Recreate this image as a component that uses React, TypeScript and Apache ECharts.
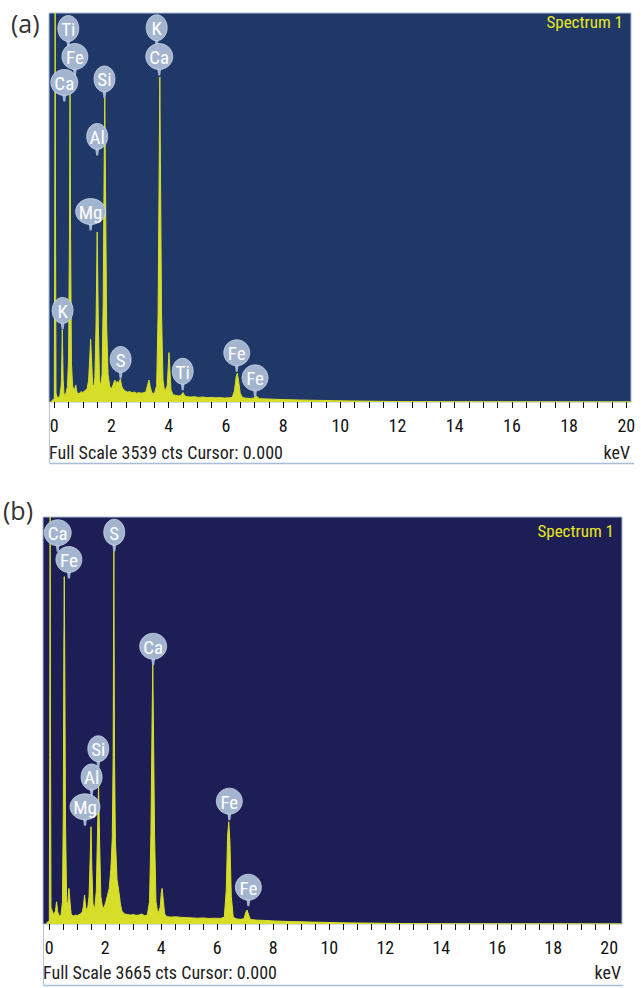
import React, { useEffect, useRef } from "react";
import * as echarts from "echarts";

// ---------- Data: panel (a) ----------
const energyA = [
  -0.1, 0.0, 0.015, 0.03, 0.045, 0.06, 0.1, 0.15, 0.2, 0.24, 0.25, 0.28, 0.31, 0.34, 0.38, 0.42, 0.46,
  0.5, 0.53, 0.55, 0.57, 0.6, 0.64, 0.68, 0.72, 0.75, 0.78, 0.82, 0.88, 0.94, 1.0, 1.05, 1.1, 1.15,
  1.2, 1.24, 1.27, 1.3, 1.34, 1.38, 1.42, 1.46, 1.5, 1.54, 1.58, 1.62, 1.67,
  1.71, 1.74, 1.765, 1.79, 1.83, 1.88, 1.94, 2.0, 2.06, 2.12, 2.16, 2.2, 2.24,
  2.28, 2.31, 2.35, 2.4, 2.48, 2.56, 2.64, 2.72, 2.8, 2.88, 2.96, 3.04, 3.12, 3.2,
  3.26, 3.31, 3.36, 3.42, 3.5, 3.58, 3.63, 3.67, 3.69, 3.71, 3.75, 3.8, 3.86,
  3.95, 3.99, 4.01, 4.04, 4.08, 4.15, 4.25, 4.35, 4.44, 4.48, 4.51, 4.55, 4.62, 4.75, 4.9, 5.05, 5.2,
  5.35, 5.5, 5.65, 5.8, 5.95, 6.1, 6.22, 6.3, 6.36, 6.4, 6.44, 6.5, 6.58, 6.7, 6.85, 6.96,
  7.02, 7.06, 7.1, 7.18, 7.4, 7.7, 8.0, 8.3, 8.6, 9.0, 9.4, 9.8, 10.3, 10.8, 11.4, 12.0, 13.0, 14.0,
  16.0, 18.0, 20.2,
];
const countsA = [
  10, 30, 1500, 3539, 1500, 80, 45, 40, 60, 150, 200, 655, 200, 70, 60, 90, 140,
  400, 1500, 2800, 1500, 350, 150, 110, 120, 155, 100, 75, 80, 95, 85, 100, 110, 120,
  200, 400, 573, 400, 160, 140, 220, 700, 1547, 700, 200, 140, 250,
  900, 2000, 2766, 2000, 700, 250, 140, 120, 160, 200, 150, 190, 170,
  190, 210, 150, 120, 100, 90, 95, 85, 90, 80, 85, 80, 85, 90,
  150, 200, 130, 80, 75, 150, 800, 2200, 2957, 2200, 800, 200, 90,
  150, 350, 449, 300, 110, 65, 60, 55, 60, 80, 85, 60, 50, 45, 48, 42, 45,
  40, 42, 38, 40, 36, 38, 40, 100, 230, 261, 200, 80, 40, 35, 32, 35,
  50, 55, 45, 30, 28, 25, 22, 20, 18, 16, 14, 12, 10, 8, 6, 4, 3, 2,
  2, 1, 1,
];
const labelNamesA = ["Ti", "Fe", "Ca", "Si", "Al", "Mg", "K", "S", "K", "Ca", "Ti", "Fe", "Fe"];
const labelKeVA = [0.49, 0.72, 0.35, 1.755, 1.5, 1.27, 0.29, 2.32, 3.58, 3.67, 4.49, 6.38, 7.02];
const labelTipA = [3225, 2970, 2734, 2766, 2243, 1560, 660, 214, 3232, 2970, 107, 275, 47];
const fullScaleA = 3539;

// ---------- Data: panel (b) ----------
const energyB = [
  -0.1, 0.0, 0.015, 0.03, 0.045, 0.06, 0.1, 0.16, 0.22, 0.26, 0.3, 0.36, 0.42, 0.47,
  0.5, 0.52, 0.535, 0.55, 0.58, 0.62, 0.66, 0.7, 0.74, 0.78, 0.85, 0.92, 1.0, 1.06, 1.12, 1.18,
  1.22, 1.26, 1.3, 1.36, 1.42, 1.46, 1.49, 1.52, 1.56, 1.62, 1.68, 1.72, 1.76, 1.8, 1.84, 1.9,
  1.96, 2.02, 2.08, 2.14, 2.2, 2.25, 2.28, 2.305, 2.33, 2.36, 2.42, 2.48, 2.54, 2.6,
  2.7, 2.8, 2.9, 3.0, 3.1, 3.2, 3.3, 3.4, 3.5, 3.58, 3.63, 3.67, 3.695, 3.72, 3.76, 3.81, 3.88,
  3.96, 4.0, 4.03, 4.07, 4.12, 4.2, 4.35, 4.5, 4.7, 4.9, 5.1, 5.3, 5.5, 5.7, 5.9, 6.1, 6.25,
  6.32, 6.37, 6.41, 6.45, 6.5, 6.57, 6.7, 6.85, 6.96, 7.01, 7.06, 7.11, 7.18,
  7.4, 7.7, 8.0, 8.3, 8.6, 9.0, 9.4, 9.8, 10.3, 10.8, 11.4, 12.0, 13.0, 14.0, 16.0, 18.0, 20.4,
];
const countsB = [
  10, 30, 1500, 3665, 1500, 150, 120, 80, 120, 200, 110, 70, 80, 200,
  1000, 2500, 3128, 2500, 900, 200, 180, 321, 200, 90, 70, 80, 75, 85, 90, 110,
  160, 261, 150, 120, 250, 600, 876, 500, 180, 130, 300, 800, 1252, 700, 250, 150,
  150, 200, 260, 320, 500, 780, 1500, 3368, 1500, 760, 400, 300, 180, 110,
  90, 85, 80, 85, 78, 80, 90, 75, 80, 200, 820, 1800, 2332, 1800, 800, 200, 90,
  150, 280, 321, 220, 90, 65, 62, 65, 60, 58, 55, 52, 55, 50, 52, 50, 60,
  300, 800, 921, 750, 250, 60, 45, 42, 50, 100, 126, 90, 40,
  35, 32, 28, 25, 22, 20, 17, 15, 12, 10, 8, 6, 4, 3, 2, 2, 1,
];
const labelNamesB = ["Ca", "Fe", "S", "Ca", "Si", "Al", "Mg", "Fe", "Fe"];
const labelKeVB = [0.3, 0.7, 2.32, 3.71, 1.75, 1.51, 1.275, 6.43, 7.11];
const labelTipB = [3352, 3111, 3357, 2330, 1407, 1153, 884, 935, 160];
const fullScaleB = 3665;

// ---------- Axis ticks ----------
const minorTicks = [
  0, 0.5, 1, 1.5, 2, 2.5, 3, 3.5, 4, 4.5, 5, 5.5, 6, 6.5, 7, 7.5, 8, 8.5, 9, 9.5, 10,
  10.5, 11, 11.5, 12, 12.5, 13, 13.5, 14, 14.5, 15, 15.5, 16, 16.5, 17, 17.5, 18, 18.5, 19, 19.5, 20,
];
const tickLabels = [0, 2, 4, 6, 8, 10, 12, 14, 16, 18, 20];

const NARROW =
  "'Liberation Sans Narrow','Arial Narrow','Roboto Condensed','DejaVu Sans Condensed','Liberation Sans',sans-serif";
const SPEC = "#d6de2a";
const BUBBLE = "#a3b4cf";
const rxByName: Record<string, number> = { Mg: 15, Ca: 13.5, Fe: 13 };

function labelSeries(names: string[], kev: number[], tips: number[], idx: number) {
  return {
    type: "custom",
    xAxisIndex: idx,
    yAxisIndex: idx,
    z: 5,
    clip: false,
    data: kev.map((k, i) => [k, tips[i]]),
    encode: { x: 0, y: 1 },
    renderItem: (params: any, api: any) => {
      const p = api.coord([api.value(0), api.value(1)]);
      const name = names[params.dataIndex];
      const rx = rxByName[name] ?? 10.5;
      const ry = 13;
      const cy = p[1] - 6 - ry;
      return {
        type: "group",
        children: [
          {
            type: "polygon",
            shape: {
              points: [
                [p[0] - 2.2, cy + ry - 3],
                [p[0] + 2.2, cy + ry - 3],
                [p[0] + 1, p[1]],
                [p[0] - 1, p[1]],
              ],
            },
            style: { fill: BUBBLE },
          },
          {
            type: "ellipse",
            shape: { cx: p[0], cy, rx, ry },
            style: { fill: BUBBLE, stroke: "rgba(215,225,240,0.7)", lineWidth: 1 },
          },
          {
            type: "text",
            x: p[0],
            y: cy + 1,
            style: {
              text: name,
              fill: "#ffffff",
              fontSize: 19,
              fontFamily: NARROW,
              align: "center",
              verticalAlign: "middle",
            },
          },
        ],
      };
    },
  };
}

function xAxisCfg(idx: number, min: number, max: number) {
  return {
    type: "value",
    gridIndex: idx,
    min,
    max,
    axisLine: { show: false },
    splitLine: { show: false },
    axisTick: {
      show: true,
      customValues: minorTicks,
      length: 6,
      lineStyle: { color: "#111", width: 1 },
    },
    axisLabel: {
      customValues: tickLabels,
      fontSize: 18,
      color: "#111",
      margin: 14,
      fontFamily: NARROW,
    },
  };
}

export default function App() {
  const ref = useRef<HTMLDivElement>(null);
  useEffect(() => {
    if (!ref.current) return;
    const chart = echarts.init(ref.current, null, { renderer: "svg" });
    const option: any = {
      animation: false,
      backgroundColor: "#ffffff",
      grid: [
        {
          left: 49,
          top: 13,
          width: 582,
          height: 389,
          show: true,
          backgroundColor: "#1f3868",
          borderColor: "#a9bbd5",
          borderWidth: 1,
        },
        {
          left: 43,
          top: 517,
          width: 579,
          height: 407,
          show: true,
          backgroundColor: "#1d1e55",
          borderColor: "#a9bbd5",
          borderWidth: 1,
        },
      ],
      xAxis: [xAxisCfg(0, -0.185, 20.165), xAxisCfg(1, -0.225, 20.455)],
      yAxis: [
        { type: "value", gridIndex: 0, min: 0, max: fullScaleA, show: false },
        { type: "value", gridIndex: 1, min: 0, max: fullScaleB, show: false },
      ],
      series: [
        {
          type: "line",
          xAxisIndex: 0,
          yAxisIndex: 0,
          data: energyA.map((e, i) => [e, countsA[i]]),
          symbol: "none",
          clip: true,
          lineStyle: { color: SPEC, width: 1 },
          areaStyle: { color: SPEC, opacity: 1 },
          z: 2,
        },
        {
          type: "line",
          xAxisIndex: 1,
          yAxisIndex: 1,
          data: energyB.map((e, i) => [e, countsB[i]]),
          symbol: "none",
          clip: true,
          lineStyle: { color: SPEC, width: 1 },
          areaStyle: { color: SPEC, opacity: 1 },
          z: 2,
        },
        labelSeries(labelNamesA, labelKeVA, labelTipA, 0),
        labelSeries(labelNamesB, labelKeVB, labelTipB, 1),
      ],
      graphic: [
        { type: "text", left: 11, top: 10, style: { text: "(a)", fontSize: 25, fill: "#333", fontFamily: "'Open Sans',sans-serif" } },
        { type: "text", left: 3, top: 497, style: { text: "(b)", fontSize: 25, fill: "#333", fontFamily: "'Open Sans',sans-serif" } },
        {
          type: "text", x: 623, y: 22,
          style: { text: "Spectrum 1", fontSize: 17, fill: "#e8e81e", fontFamily: NARROW, align: "right", verticalAlign: "middle" },
          z: 10,
        },
        {
          type: "text", x: 614, y: 531,
          style: { text: "Spectrum 1", fontSize: 17, fill: "#e8e81e", fontFamily: NARROW, align: "right", verticalAlign: "middle" },
          z: 10,
        },
        {
          type: "text", x: 49, y: 452,
          style: { text: `Full Scale ${fullScaleA} cts Cursor: 0.000`, fontSize: 18, fill: "#222", fontFamily: NARROW, verticalAlign: "middle" },
        },
        {
          type: "text", x: 630, y: 452,
          style: { text: "keV", fontSize: 18, fill: "#222", fontFamily: NARROW, align: "right", verticalAlign: "middle" },
        },
        {
          type: "text", x: 43, y: 972,
          style: { text: `Full Scale ${fullScaleB} cts Cursor: 0.000`, fontSize: 18, fill: "#222", fontFamily: NARROW, verticalAlign: "middle" },
        },
        {
          type: "text", x: 621, y: 972,
          style: { text: "keV", fontSize: 18, fill: "#222", fontFamily: NARROW, align: "right", verticalAlign: "middle" },
        },
        { type: "line", shape: { x1: 49.5, y1: 402, x2: 49.5, y2: 463.5 }, style: { stroke: "#b4c5dd", lineWidth: 1 } },
        { type: "line", shape: { x1: 49.5, y1: 463.5, x2: 634, y2: 463.5 }, style: { stroke: "#a9bdd8", lineWidth: 1.5 } },
        { type: "line", shape: { x1: 43.5, y1: 924, x2: 43.5, y2: 985.5 }, style: { stroke: "#b4c5dd", lineWidth: 1 } },
        { type: "line", shape: { x1: 43.5, y1: 985.5, x2: 623, y2: 985.5 }, style: { stroke: "#a9bdd8", lineWidth: 1.5 } },
      ],
    };
    chart.setOption(option);
    return () => chart.dispose();
  }, []);
  return (
    <div
      ref={ref}
      style={{ position: "absolute", left: 0, top: 0, width: 641, height: 988 }}
    />
  );
}
